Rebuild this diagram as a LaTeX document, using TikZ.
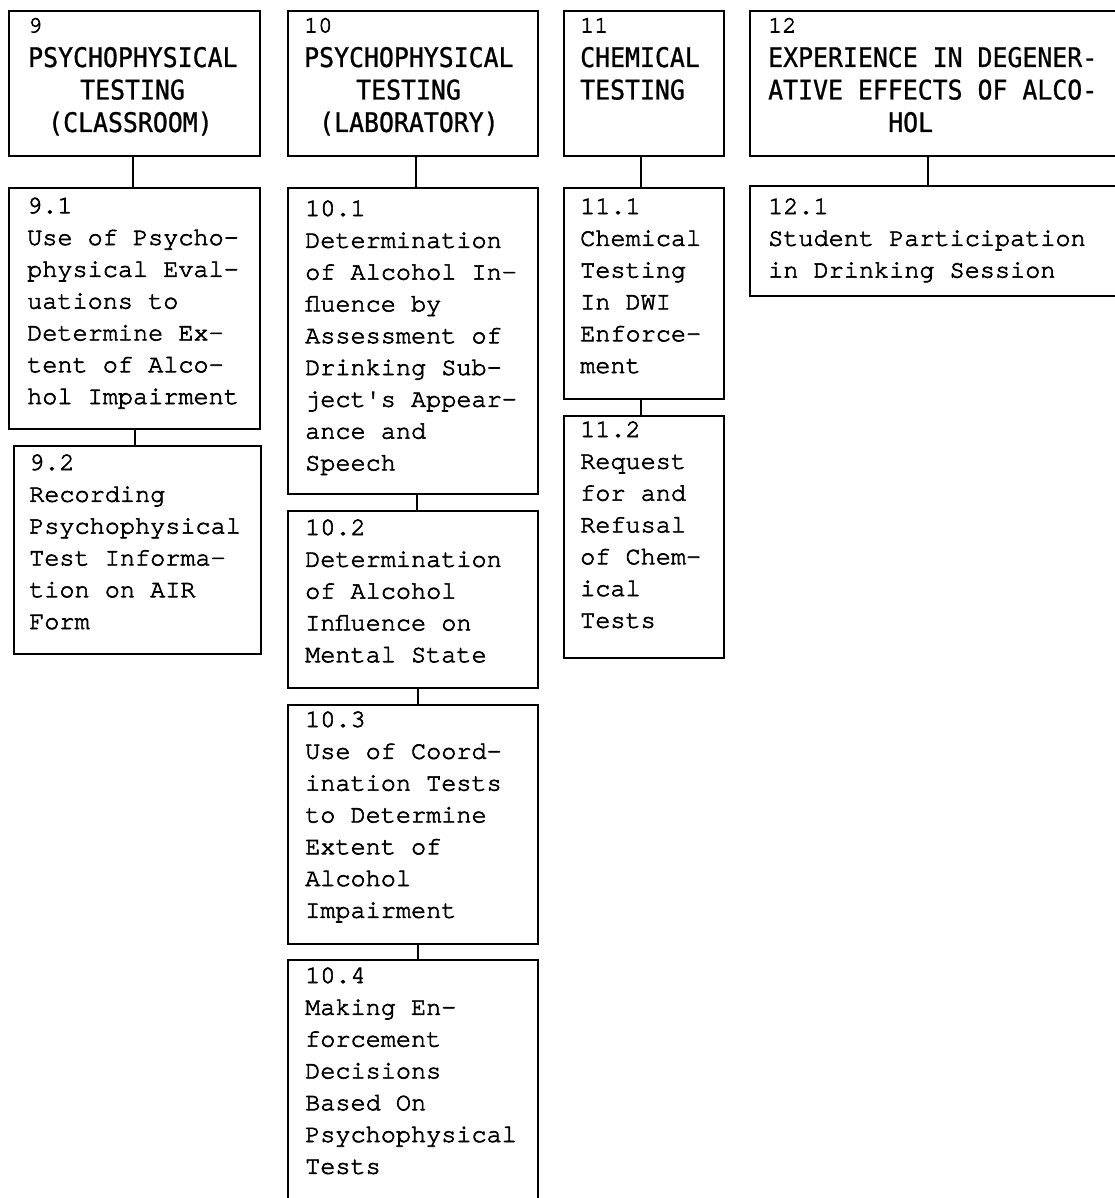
\documentclass[tikz,border=0pt]{standalone}
\usepackage{fontspec}
\newfontfamily\hdrf{DejaVu Sans Mono}[FakeStretch=0.92,FakeBold=1]
\newfontfamily\bodyf{TeX Gyre Cursor}[FakeBold=2.5]
\newcommand\bodyfont{\bodyf\fontsize{25.2}{31.8}\selectfont}
\newcommand\hdrfont{\hdrf\fontsize{27}{32.5}\selectfont}
\newcommand\hnum[1]{{\bodyf\fontsize{23.5}{23.5}\selectfont #1}}
\begin{document}
\begin{tikzpicture}[x=1pt,y=-1pt,
  boxs/.style={draw, line width=1.9pt, inner sep=0pt, anchor=north west},
  body/.style={font=\bodyfont, align=left, inner sep=0pt, anchor=base west},
  hdr/.style={font=\hdrfont, align=left, inner sep=0pt, anchor=base west},
  link/.style={line width=1.9pt}]
\useasboundingbox[fill=white] (0,0) rectangle (1115,1198);

% top row
\node[boxs, minimum width=251pt, minimum height=145pt] (b9)  at (8,10) {};
\node[boxs, minimum width=250pt, minimum height=145pt] (b10) at (287,10) {};
\node[boxs, minimum width=160pt, minimum height=145pt] (b11) at (563,10) {};
\node[boxs, minimum width=400pt, minimum height=145pt] (b12) at (749,10) {};

% column 9
\node[boxs, minimum width=251pt, minimum height=241pt] (b91) at (8,187) {};
\node[boxs, minimum width=247pt, minimum height=208pt] (b92) at (13,445) {};
% column 10
\node[boxs, minimum width=250pt, minimum height=306pt] (b101) at (287,187) {};
\node[boxs, minimum width=250pt, minimum height=177pt] (b102) at (287,510) {};
\node[boxs, minimum width=250pt, minimum height=239pt] (b103) at (287,704) {};
\node[boxs, minimum width=250pt, minimum height=300pt] (b104) at (287,959) {};
% column 11
\node[boxs, minimum width=160pt, minimum height=211pt] (b111) at (563,187) {};
\node[boxs, minimum width=160pt, minimum height=242pt] (b112) at (563,415) {};
% column 12
\node[boxs, minimum width=400pt, minimum height=110pt] (b121) at (749,185) {};

% connector columns
\coordinate (c9a) at (133,0);
\coordinate (c9b) at (135,0);
\coordinate (c10a) at (416,0);
\coordinate (c10b) at (417,0);
\coordinate (c10c) at (418,0);
\coordinate (c11) at (641,0);
\coordinate (c12) at (928,0);

\draw[link] (b9.south -| c9a) -- (b91.north -| c9a);
\draw[link] (b91.south -| c9b) -- (b92.north -| c9b);
\draw[link] (b10.south -| c10a) -- (b101.north -| c10a);
\draw[link] (b101.south -| c10b) -- (b102.north -| c10b);
\draw[link] (b102.south -| c10c) -- (b103.north -| c10c);
\draw[link] (b103.south -| c10c) -- (b104.north -| c10c);
\draw[link] (b11.south -| c11) -- (b111.north -| c11);
\draw[link] (b111.south -| c11) -- (b112.north -| c11);
\draw[link] (b12.south -| c12) -- (b121.north -| c12);

% header texts (anchored at the baseline of the last line)
\node[hdr] (t9) at (28,132) {\hnum{9}\\[2pt]PSYCHOPHYSICAL\\\hspace*{52pt}TESTING\\\hspace*{20pt}(CLASSROOM)};
\node[hdr] (t10) at (304,132) {\hnum{10}\\[2pt]PSYCHOPHYSICAL\\\hspace*{52pt}TESTING\\\hspace*{15pt}(LABORATORY)};
\node[hdr] (t11) at (580,99.5) {\hnum{11}\\[2pt]CHEMICAL\\TESTING};
\node[hdr] (t12) at (768,132) {\hnum{12}\\[2pt]EXPERIENCE IN DEGENER-\\ATIVE EFFECTS OF ALCO-\\\hspace*{120pt}HOL};

% body texts (anchored at the baseline of the last line)
\node[body] (t91) at (27,404) {9.1\\Use of Psycho-\\physical Eval-\\uations to\\Determine Ex-\\tent of Alco-\\hol Impairment};
\node[body] (t92) at (29,629) {9.2\\Recording\\Psychophysical\\Test Informa-\\tion on AIR\\Form};
\node[body] (t101) at (305,470.4) {10.1\\Determination\\of Alcohol In-\\fluence by\\Assessment of\\Drinking Sub-\\ject's Appear-\\ance and\\Speech};
\node[body] (t102) at (305,662.2) {10.2\\Determination\\of Alcohol\\Influence on\\Mental State};
\node[body] (t103) at (305,917.8) {10.3\\Use of Coord-\\ination Tests\\to Determine\\Extent of\\Alcohol\\Impairment};
\node[body] (t104) at (305,1173.8) {10.4\\Making En-\\forcement\\Decisions\\Based On\\Psychophysical\\Tests};
\node[body] (t111) at (580,373) {11.1\\Chemical\\Testing\\In DWI\\Enforce-\\ment};
\node[body] (t112) at (580,627.8) {11.2\\Request\\for and\\Refusal\\of Chem-\\ical\\Tests};
\node[body] (t121) at (768,277.6) {12.1\\Student Participation\\in Drinking Session};
\end{tikzpicture}
\end{document}
